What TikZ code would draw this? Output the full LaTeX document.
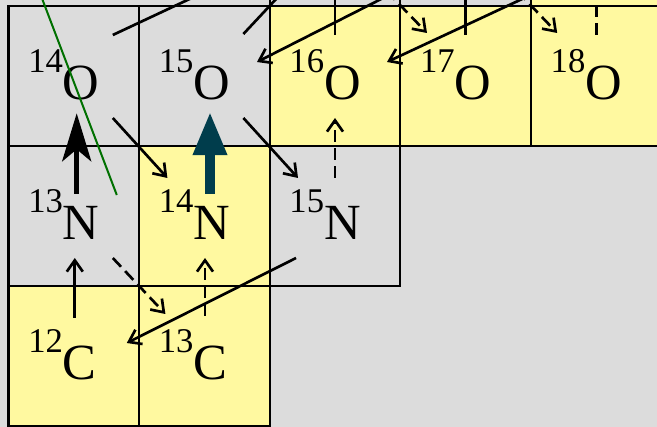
\documentclass[tikz,border=0pt]{standalone}
\usepackage{fontspec}
\setmainfont{Liberation Serif}
\usetikzlibrary{arrows.meta, calc}
\definecolor{cellgray}{RGB}{220,220,220}
\definecolor{cellyellow}{RGB}{255,249,160}
\definecolor{darkteal}{RGB}{0,61,76}
\definecolor{linegreen}{RGB}{0,112,0}
\newcommand{\nuc}[2]{\raisebox{20.5pt}{\fontsize{26pt}{28pt}\selectfont #1}#2}

\begin{document}
\begin{tikzpicture}[
  x=0.75pt, y=-0.75pt,
  isocell/.style = {rectangle, draw, line width=1.7pt, inner sep=0pt,
                    minimum width=97.95pt, minimum height=105pt},
  gcell/.style   = {isocell, fill=cellgray},
  ycell/.style   = {isocell, fill=cellyellow},
  lbl/.style     = {anchor=base west, inner sep=0pt, font=\fontsize{38pt}{40pt}\selectfont},
  arr/.style     = {-{Straight Barb[length=8.5pt, width=12pt]}, line width=2pt},
  darr/.style    = {arr, dash pattern=on 9pt off 4.5pt},
  bigarr/.style  = {-{Stealth[length=36pt, width=21.75pt, inset=9pt]}, line width=3.75pt},
  tealarr/.style = {-{Triangle[length=32.5pt, width=23.8pt]}, line width=7.5pt, darkteal},
  greenline/.style = {line width=1.5pt, linegreen}
]
\useasboundingbox (0,0) rectangle (657,427);
\clip (0,0) rectangle (657,427);
\fill[cellgray] (0,0) rectangle (657,427);

\node[gcell] (F17) at (335,-64)   {};
\node[gcell] (F18) at (465.6,-64) {};
\node[ycell] (F19) at (596.2,-64) {};
\coordinate (Ne19) at (465.6,-204);

\node[gcell] (O14) at (73.8,76)  {};
\node[gcell] (O15) at (204.4,76) {};
\node[ycell] (O16) at (335,76)   {};
\node[ycell] (O17) at (465.6,76) {};
\node[ycell] (O18) at (596.2,76) {};
\node[gcell] (N13) at (73.8,216)  {};
\node[ycell] (N14) at (204.4,216) {};
\node[gcell] (N15) at (335,216)   {};
\node[ycell] (C12) at (73.8,356)  {};
\node[ycell] (C13) at (204.4,356) {};

\node[lbl] (tO14) at (28,100)    {\nuc{14}{O}};
\node[lbl] (tO15) at (158.6,100) {\nuc{15}{O}};
\node[lbl] (tO16) at (289.2,100) {\nuc{16}{O}};
\node[lbl] (tO17) at (419.8,100) {\nuc{17}{O}};
\node[lbl] (tO18) at (550.4,100) {\nuc{18}{O}};
\node[lbl] (tN13) at (28,240)    {\nuc{13}{N}};
\node[lbl] (tN14) at (158.6,240) {\nuc{14}{N}};
\node[lbl] (tN15) at (289.2,240) {\nuc{15}{N}};
\node[lbl] (tC12) at (28,380)    {\nuc{12}{C}};
\node[lbl] (tC13) at (158.6,380) {\nuc{13}{C}};

\draw[arr]  ($(C12)+(1,-38)$)    -- ($(N13)+(1,42)$);
\draw[darr] ($(N13)+(39,42)$)    -- ($(C13)+(-39,-42)$);
\draw[darr] ($(C13)+(0.6,-40)$)  -- ($(N14)+(0.6,42)$);
\draw[arr]  ($(O14)+(39,42)$)    -- ($(N14)+(-37,-38)$);
\draw[arr]  ($(O15)+(39,42)$)    -- ($(N15)+(-37,-38)$);
\draw[arr]  ($(N15)+(-39,42)$)   -- ($(C12)+(53,-13)$);
\draw[darr] ($(N15)+(0,-38)$)    -- ($(O16)+(0,42)$);
\draw[arr]  ($(O16)+(0,-41)$)    -- ($(F17)+(0,42)$);
\draw[arr]  ($(O17)+(0,-41)$)    -- ($(F18)+(0,42)$);
\draw[darr] ($(O18)+(0,-41)$)    -- ($(F19)+(0,42)$);
\draw[darr] ($(F17)+(39,42)$)    -- ($(O17)+(-38.6,-43)$);
\draw[darr] ($(F18)+(39,42)$)    -- ($(O18)+(-39,-43)$);
\draw[arr]  ($(F18)+(-43,42)$)   -- ($(O15)+(52.6,-14)$);
\draw[arr]  ($(F19)+(-29,42)$)   -- ($(O16)+(52,-14)$);
\draw[arr]  ($(O14)+(39,-41)$)   -- ($(F17)+(-75,30)$);
\draw[arr]  ($(O15)+(39,-42)$)   -- ($(Ne19)+(-39,42)$);
\draw[bigarr]  ($(N13)+(2.9,-22)$) -- ($(O14)+(2.9,37.3)$);
\draw[tealarr] ($(N14)+(5.6,-22)$) -- ($(O15)+(5.6,35.7)$);
\draw[greenline] ($(O14)+(-35,-86)$) -- ($(N13)+(43,-21)$);
\end{tikzpicture}
\end{document}
